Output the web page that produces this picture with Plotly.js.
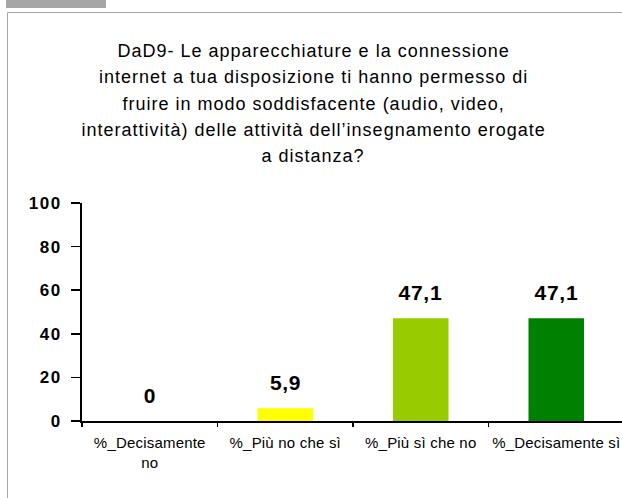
<!DOCTYPE html>
<html>
<head>
<meta charset="utf-8">
<script src="https://cdn.plot.ly/plotly-3.0.1.min.js"></script>
<style>
  html, body { margin:0; padding:0; background:#ffffff; overflow:hidden; }
  #wrap { position:relative; width:622px; height:498px; overflow:hidden; background:#ffffff; }
  #chart { position:absolute; left:0; top:0; }
  .xtick text { letter-spacing:0.2px; }
  .ytick text { letter-spacing:1.5px; }
</style>
</head>
<body>
<div id="wrap">
<div id="chart"></div>
</div>
<script>
// ---- data ----
const categories = ['%_Decisamente no', '%_Più no che sì', '%_Più sì che no', '%_Decisamente sì'];
const tickLabels = ['%_Decisamente<br>no', '%_Più no che sì', '%_Più sì che no', '%_Decisamente sì'];
const values = [0, 5.9, 47.1, 47.1];
const barColors = ['#FFFF00', '#FFFF00', '#99CC00', '#008000'];
const yTicks = [0, 20, 40, 60, 80, 100];
const titleLines = [
  'DaD9- Le apparecchiature e la connessione',
  'internet a tua disposizione ti hanno permesso di',
  'fruire in modo soddisfacente (audio, video,',
  'interattività) delle attività dell\u2019insegnamento erogate',
  'a distanza?'
];

// ---- geometry helpers (pixel -> paper) ----
const W = 626, H = 498;
const M = {l:82, r:2, t:203, b:77};
const plotW = W - M.l - M.r, plotH = H - M.t - M.b;
const px2x = px => (px - M.l) / plotW;
const py2y = py => (H - M.b - py) / plotH;
const fmt = v => String(v).replace('.', ',');

const annotations = [];
titleLines.forEach((t, i) => {
  annotations.push({
    text: t, xref:'paper', yref:'paper',
    x: px2x(313), y: py2y(51 + i * 26.3),
    xanchor:'center', yanchor:'middle', showarrow:false,
    font:{family:'Arial, "Liberation Sans", sans-serif', size:18, color:'#000000'}
  });
});
categories.forEach((c, i) => {
  annotations.push({
    text: fmt(values[i]), xref:'x', yref:'y',
    x: c, y: values[i], xanchor:'center', yanchor:'bottom', yshift:12,
    showarrow:false,
    font:{family:'Arial, "Liberation Sans", sans-serif', size:21, color:'#000000', weight:'bold'}
  });
});

// decorative frame (gray tab + border lines), in paper coordinates
const frameColor = '#a6a6a6';
const shapes = [
  {type:'rect', xref:'paper', yref:'paper', x0:px2x(6), x1:px2x(106), y0:py2y(0), y1:py2y(8),
   fillcolor:frameColor, line:{width:0}, layer:'below'},
  {type:'line', xref:'paper', yref:'paper', x0:px2x(7.5), x1:px2x(626), y0:py2y(12.5), y1:py2y(12.5),
   line:{color:frameColor, width:1}, layer:'below'},
  {type:'line', xref:'paper', yref:'paper', x0:px2x(7.5), x1:px2x(7.5), y0:py2y(12.5), y1:py2y(498),
   line:{color:frameColor, width:1}, layer:'below'}
];

const trace = {
  type:'bar', x: categories, y: values,
  marker:{color: barColors, line:{width:0}},
  width: 0.41, hoverinfo:'skip'
};

const layout = {
  width: W, height: H, margin: M,
  paper_bgcolor:'#ffffff', plot_bgcolor:'rgba(0,0,0,0)',
  showlegend:false,
  font:{family:'Arial, "Liberation Sans", sans-serif', color:'#000000'},
  xaxis:{
    type:'category', tickmode:'array', tickvals: categories, ticktext: tickLabels,
    tickson:'boundaries', ticks:'outside', ticklen:4, tickwidth:1.5, tickcolor:'#000000',
    showline:true, linecolor:'#000000', linewidth:2, showgrid:false, zeroline:false,
    tickfont:{family:'Arial, "Liberation Sans", sans-serif', size:15, color:'#000000'},
    ticklabelstandoff:7, fixedrange:true
  },
  yaxis:{
    range:[0, 100], tickmode:'array', tickvals: yTicks, ticktext: yTicks.map(String),
    ticks:'outside', ticklen:9, tickwidth:1.5, tickcolor:'#000000',
    showline:true, linecolor:'#000000', linewidth:2, showgrid:false, zeroline:false,
    tickfont:{family:'Arial, "Liberation Sans", sans-serif', size:17, color:'#000000', weight:'bold'},
    ticklabelstandoff:6, fixedrange:true
  },
  shapes: shapes,
  annotations: annotations
};

Plotly.newPlot('chart', [trace], layout, {displayModeBar:false, staticPlot:true}).then(() => {
  document.querySelectorAll('.annotation').forEach(g => {
    const idx = +g.getAttribute('data-index');
    const sp = idx < titleLines.length ? '1px' : '0.7px';
    g.querySelectorAll('text').forEach(t => t.style.letterSpacing = sp);
  });
});
</script>
</body>
</html>
